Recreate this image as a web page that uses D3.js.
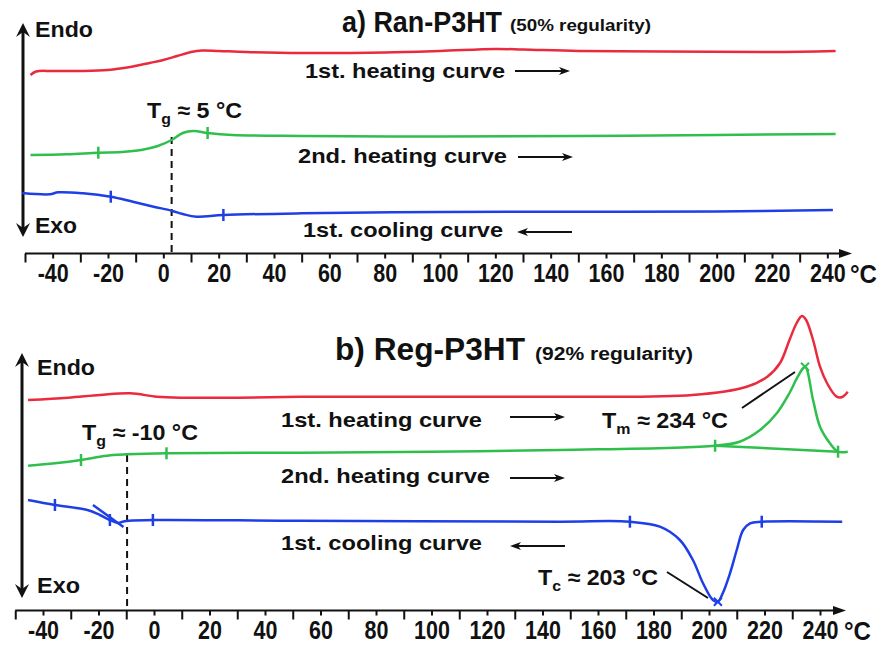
<!DOCTYPE html>
<html>
<head>
<meta charset="utf-8">
<script src="https://cdn.jsdelivr.net/npm/d3@7"></script>
<style>
body{margin:0;background:#fff;}
svg{display:block;font-family:"Liberation Sans",Arial,sans-serif;font-weight:bold;}
</style>
</head>
<body>
<svg id="chart" width="881" height="645"></svg>
<script>
// temperature axis
var tickLabels=[-40,-20,0,20,40,60,80,100,120,140,160,180,200,220,240];

// a) Ran-P3HT, [T in °C, heat flow (arb.)]
var ranHeat1=[[-48,178],[-46,181.5],[-40,182],[-30,182],[-20,183],[-12,186],[-5,190],[0,193],[5,197],[10,201],[14,202.5],[20,202],[30,201],[50,200],[80,200.5],[100,202],[120,204],[130,203.5],[150,202],[180,201.5],[220,201],[243,202]];
var ranHeat2=[[-48,98],[-35,98.7],[-23.5,100.3],[-15,101],[-8,103],[-2,107],[3,113],[7,120],[11,122],[16,120],[25,118],[50,117],[100,116.5],[150,117],[200,118],[243,119]];
var ranCool1=[[-51,60],[-41,58.7],[-38,60.7],[-29,59.7],[-19,56.3],[-11,51.3],[-3.5,46.3],[3,42.3],[7,39],[12,36.3],[21.7,38],[50,39.7],[100,41],[150,41.3],[200,41.5],[242,43]];
var ranHeat2Marks=[[-23.5,100.3],[16,120]];
var ranCool1Marks=[[-19,56.3],[21.7,38]];
var ranTg=3;

// b) Reg-P3HT
var regHeat1=[[-45.4,209],[-31,211.3],[-19.5,214],[-8.6,215.7],[1,212.3],[10.5,211.3],[28.5,211.3],[52.6,212.3],[100,212.3],[146,212.3],[194,214],[213.6,222.3],[221,232.3],[225.6,246],[229,269],[231.6,286],[233.5,293],[235,289],[237.5,269],[240,242.3],[242.5,226],[246,212.3],[248,212],[250,217.3]];
var regHeat2=[[-45.4,143.3],[-35.7,145.7],[-26.3,149],[-19.5,152.3],[-14.8,154],[-9.8,154.7],[4.5,155.7],[52.6,156.3],[100,157.3],[146,159],[202.2,163.3],[211,167.3],[218.4,179],[224.5,196],[229,216],[232,232.3],[234.6,242.3],[237.5,209],[240,182.3],[243.6,165.7],[246.5,157.3],[250,157.3]];
var regHeat2Base=[[202.2,163.3],[246.5,157.3]];
var regCool1=[[-45.4,109],[-35.7,104],[-24,99],[-19.5,94],[-15.9,89],[-13,86],[-11,87.5],[-9,88.3],[0,89],[52.6,88.3],[146,87.3],[171.5,87.3],[182.3,82.3],[189.5,69],[194.2,49],[197.8,26],[201.4,9],[203.2,7.3],[205,16],[207.6,36],[210,59],[212.3,79],[214.8,85.7],[219,87.3],[248,87.3]];
var regCool1Tangent=[[-22,104],[-11,82]];
var regHeat2Marks=[[-26.3,149],[4.5,155.7],[202.2,163.3],[246.5,157.3]];
var regCool1Marks=[[-35.7,104],[-15.9,89],[-0.4,89],[171.5,87.3],[219,87.3]];
var regTg=-9.7;
var regTm=[234.6,242.3];
var regTc=[203.2,7.3];

var RED="#ea2a3d",GREEN="#2fbf4c",BLUE="#1f3fe6",INK="#111";

var svg=d3.select("#chart");

function txt(s,x,y,fs,len){
	var t=svg.append("text").attr("x",x).attr("y",y).attr("font-size",fs).attr("fill",INK).text(s);
	if(len){t.attr("textLength",len).attr("lengthAdjust","spacingAndGlyphs");}
	return t;
}

function subTxt(main,sub,rest,x,y,len){
	var t=svg.append("text").attr("x",x).attr("y",y).attr("font-size",22).attr("fill",INK)
		.attr("textLength",len).attr("lengthAdjust","spacingAndGlyphs");
	t.append("tspan").text(main);
	t.append("tspan").attr("font-size",15).attr("dy",6).text(sub);
	t.append("tspan").attr("dy",-6).text(rest);
}

function hArrow(x1,x2,y){
	var dir=x2>x1?1:-1;
	svg.append("line").attr("x1",x1).attr("x2",x2-dir*6).attr("y1",y).attr("y2",y)
		.attr("stroke",INK).attr("stroke-width",2);
	svg.append("path").attr("fill",INK)
		.attr("d","M"+x2+","+y+"L"+(x2-dir*11)+","+(y-4)+"L"+(x2-dir*8)+","+y+"L"+(x2-dir*11)+","+(y+4)+"Z");
}

function vArrow(x,y1,y2){
	svg.append("line").attr("x1",x).attr("x2",x).attr("y1",y1+6).attr("y2",y2-6)
		.attr("stroke",INK).attr("stroke-width",3);
	svg.append("path").attr("fill",INK)
		.attr("d","M"+x+","+y1+"L"+(x-7)+","+(y1+14)+"L"+x+","+(y1+9)+"L"+(x+7)+","+(y1+14)+"Z");
	svg.append("path").attr("fill",INK)
		.attr("d","M"+x+","+y2+"L"+(x-7)+","+(y2-14)+"L"+x+","+(y2-9)+"L"+(x+7)+","+(y2-14)+"Z");
}

function drawAxis(x,yPos,tipX){
	var ax=d3.axisBottom(x).tickValues(d3.range(-50,241,10)).tickSize(0)
		.tickFormat(function(d){return tickLabels.indexOf(d)>=0?String(d):"";});
	var a=svg.append("g").attr("transform","translate(0,"+yPos+")").call(ax)
		.attr("font-size",null).attr("font-family",null);
	a.select(".domain").remove();
	a.selectAll(".tick line").attr("stroke",INK).attr("stroke-width",2)
		.attr("y2",function(d){return tickLabels.indexOf(d)>=0?5:9;});
	a.selectAll(".tick text").attr("fill",INK).attr("font-size",25).attr("dy",null).attr("y",29)
		.attr("transform","scale(0.86,1)");
	svg.append("line").attr("x1",x(-50)).attr("x2",tipX-8).attr("y1",yPos).attr("y2",yPos)
		.attr("stroke",INK).attr("stroke-width",2);
	svg.append("path").attr("fill",INK)
		.attr("d","M"+tipX+","+yPos+"L"+(tipX-13)+","+(yPos-4.5)+"L"+(tipX-13)+","+(yPos+4.5)+"Z");
	svg.append("text").attr("x",tipX-2).attr("y",yPos+29).attr("font-size",25).attr("fill",INK)
		.attr("textLength",27).attr("lengthAdjust","spacingAndGlyphs").text("°C");
}

function curve(data,x,y,color){
	var line=d3.line().x(function(d){return x(d[0]);}).y(function(d){return y(d[1]);})
		.curve(d3.curveCatmullRom.alpha(0.5));
	svg.append("path").datum(data).attr("d",line).attr("fill","none")
		.attr("stroke",color).attr("stroke-width",2.5).attr("stroke-linejoin","round");
}

function straight(data,x,y,color){
	svg.append("path").datum(data)
		.attr("d",d3.line().x(function(d){return x(d[0]);}).y(function(d){return y(d[1]);}))
		.attr("fill","none").attr("stroke",color).attr("stroke-width",2.5);
}

function marks(data,x,y,color){
	svg.selectAll(null).data(data).enter().append("line")
		.attr("x1",function(d){return x(d[0]);}).attr("x2",function(d){return x(d[0]);})
		.attr("y1",function(d){return y(d[1])-6;}).attr("y2",function(d){return y(d[1])+6;})
		.attr("stroke",color).attr("stroke-width",2.5);
}

function cross(p,x,y,color){
	var cx=x(p[0]),cy=y(p[1]),r=4;
	svg.append("path").attr("d","M"+(cx-r)+","+(cy-r)+"L"+(cx+r)+","+(cy+r)+"M"+(cx-r)+","+(cy+r)+"L"+(cx+r)+","+(cy-r))
		.attr("stroke",color).attr("stroke-width",2).attr("fill","none");
}

function dashed(xp,y1,y2){
	svg.append("line").attr("x1",xp).attr("x2",xp).attr("y1",y1).attr("y2",y2)
		.attr("stroke",INK).attr("stroke-width",2).attr("stroke-dasharray","7,5");
}

// ---- panel a ----
var xA=d3.scaleLinear().domain([-50,250]).range([25,855]);
var yA=d3.scaleLinear().domain([0,230]).range([253,23]);

txt("a) Ran-P3HT",342,32,30,160);
txt("(50% regularity)",510,31,17,141);
vArrow(23,23,237);
txt("Endo",35,37,22,58);
txt("Exo",35,233,22,42);

dashed(xA(ranTg),yA(116),253.5);
curve(ranHeat1,xA,yA,RED);
curve(ranHeat2,xA,yA,GREEN);
curve(ranCool1,xA,yA,BLUE);
marks(ranHeat2Marks,xA,yA,GREEN);
marks(ranCool1Marks,xA,yA,BLUE);

txt("1st. heating curve",305,78,21,200);
hArrow(515,570,71);
txt("2nd. heating curve",298,163,21,209);
hArrow(518,573,157);
txt("1st. cooling curve",303,237,21,200);
hArrow(572,517,232);
subTxt("T","g"," ≈ 5 °C",147,118,95);

drawAxis(xA,253.5,852);

// ---- panel b ----
var xB=d3.scaleLinear().domain([-50,250]).range([15.25,847.75]);
var yB=d3.scaleLinear().domain([0,260]).range([609,349]);

txt("b) Reg-P3HT",335,360,32,190);
txt("(92% regularity)",535,360,18,158);
vArrow(22,353,598);
txt("Endo",37,375,22,58);
txt("Exo",37,593,22,43);

dashed(xB(regTg),yB(154),610.5);
curve(regHeat1,xB,yB,RED);
curve(regHeat2,xB,yB,GREEN);
straight(regHeat2Base,xB,yB,GREEN);
curve(regCool1,xB,yB,BLUE);
straight(regCool1Tangent,xB,yB,BLUE);
marks(regHeat2Marks,xB,yB,GREEN);
marks(regCool1Marks,xB,yB,BLUE);
cross(regTm,xB,yB,GREEN);
cross(regTc,xB,yB,BLUE);

txt("1st. heating curve",281,427,21,201);
hArrow(510,565,417);
txt("2nd. heating curve",281,483,21,209);
hArrow(510,565,478);
txt("1st. cooling curve",281,550,21,201);
hArrow(565,510,546);
subTxt("T","g"," ≈ -10 °C",82,440,116);
subTxt("T","m"," ≈ 234 °C",602,428,126);
subTxt("T","c"," ≈ 203 °C",538,585,120);
svg.append("line").attr("x1",742).attr("y1",408).attr("x2",795).attr("y2",372).attr("stroke",INK).attr("stroke-width",2);
svg.append("line").attr("x1",667).attr("y1",572).attr("x2",708).attr("y2",598).attr("stroke",INK).attr("stroke-width",2);

drawAxis(xB,610.5,846);
</script>
</body>
</html>
